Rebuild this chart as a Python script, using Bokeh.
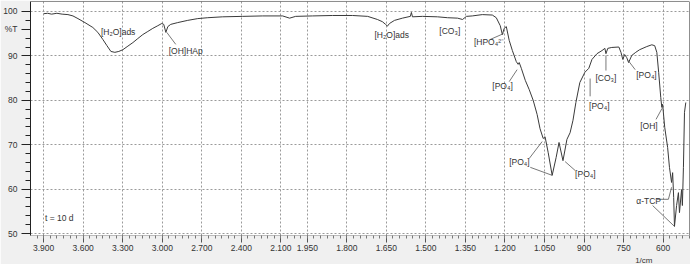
import numpy as np
from bokeh.plotting import figure
from bokeh.models import ColumnDataSource, FixedTicker, Span, Range1d, Title
from bokeh.core.properties import value
from bokeh.embed import file_html
from bokeh.resources import INLINE

# ---- spectrum (wavenumber in 1/cm, transmittance in %T) ----
wavenumber = [3900, 3870, 3840, 3800, 3760, 3716, 3678, 3640, 3587, 3527, 3489, 3451, 3420,
              3390, 3360, 3330, 3299, 3261, 3223, 3186, 3148, 3110, 3072, 3034, 3004, 2989,
              2973, 2958, 2936, 2883, 2807, 2731, 2655, 2542, 2390, 2239, 2087, 2034, 1994,
              1930, 1854, 1778, 1721, 1684, 1665, 1653, 1646, 1638, 1619, 1589, 1559, 1555,
              1551, 1513, 1456, 1418, 1380, 1361, 1346, 1324, 1286, 1248, 1233, 1218, 1210,
              1203, 1195, 1184, 1172, 1157, 1150, 1146, 1138, 1123, 1108, 1093, 1078, 1067,
              1055, 1048, 1036, 1021, 1006, 995, 980, 965, 953, 942, 931, 916, 897, 882, 870,
              851, 832, 821, 817, 810, 795, 768, 760, 753, 746, 738, 731, 719, 704, 689, 662,
              643, 632, 624, 617, 609, 605, 602, 594, 583, 576, 568, 564, 560, 557, 549, 542,
              538, 530, 527, 523, 519, 514]
transmittance = [99.5, 99.6, 99.4, 99.6, 99.4, 99.3, 99.0, 98.4, 97.5, 96.4, 95.3, 93.7, 92.3,
                 91.0, 90.8, 91.0, 91.4, 92.2, 93.0, 93.9, 94.8, 95.5, 96.2, 96.8, 97.3, 97.1,
                 95.3, 96.6, 97.1, 97.5, 98.0, 98.4, 98.6, 98.8, 98.9, 99.0, 99.0, 98.5, 98.9,
                 99.0, 99.1, 99.1, 98.9, 98.2, 97.7, 97.1, 96.7, 97.3, 98.0, 98.5, 98.9, 99.8,
                 98.8, 98.9, 98.8, 98.6, 98.5, 98.2, 98.9, 99.0, 99.3, 99.2, 98.6, 96.8, 94.8,
                 96.2, 96.6, 93.5, 91.2, 88.7, 88.1, 88.5, 87.2, 84.5, 82.4, 80.0, 76.8, 73.6,
                 71.4, 71.8, 68.2, 63.1, 67.1, 70.5, 66.4, 71.2, 72.7, 75.5, 79.5, 84.0, 86.3,
                 87.2, 89.2, 90.5, 91.2, 91.7, 90.5, 91.7, 91.9, 92.0, 90.8, 89.2, 90.3, 89.6,
                 88.5, 90.1, 90.8, 91.4, 92.1, 92.5, 92.3, 90.8, 86.3, 80.6, 78.4, 79.1, 73.9,
                 69.4, 64.9, 61.5, 63.7, 58.1, 51.6, 56.3, 59.2, 54.7, 59.9, 56.3, 64.9, 77.3,
                 79.5]

# ---- axes ----
x_tick_values = [3900, 3600, 3300, 3000, 2700, 2400, 2100, 1950, 1800, 1650, 1500, 1350,
                 1200, 1050, 900, 750, 600]
x_tick_labels = ["3.900", "3.600", "3.300", "3.000", "2.700", "2.400", "2.100", "1.950",
                 "1.800", "1.650", "1.500", "1.350", "1.200", "1.050", "900", "750", "600"]
y_tick_values = [50, 60, 70, 80, 90, 100]
y_unit_tick = 96
y_unit_label = "%T"
x_unit_label = "1/cm"

# ---- band assignments ----
band_labels = ["[H\u2082O]ads", "[OH]HAp", "[H\u2082O]ads", "[CO\u2083]", "[HPO\u2084\u00b2\u207b",
               "[PO\u2084]", "[CO\u2083]", "[PO\u2084]", "[PO\u2084]", "[OH]", "[PO\u2084]",
               "[PO\u2084]", "\u03b1-TCP", "t = 10 d"]
band_label_w = [3466, 2951, 1695, 1449, 1318, 1248, 817, 702, 881, 687, 1184, 934, 702, 3890]
band_label_t = [95.3, 91.2, 94.8, 95.7, 93.2, 83.3, 85.1, 85.8, 78.8, 74.3, 66.2, 63.5, 57.4, 53.4]
band_label_align = ["left", "left", "left", "left", "left", "left", "center", "left", "left",
                    "left", "left", "left", "left", "left"]
pointer_w = [[2966, 2898], [1256, 1206], [1184, 1154], [817, 817], [706, 733], [877, 877],
             [627, 604], [1108, 1059], [1104, 1021], [934, 972], [624, 580, 568], [640, 557]]
pointer_t = [[95.3, 92.6], [93.7, 95.0], [84.2, 86.9], [90.1, 86.7], [86.9, 89.0], [84.9, 80.9],
             [75.7, 78.2], [66.9, 70.7], [64.9, 63.1], [64.2, 66.2], [57.7, 57.7, 60.4],
             [56.3, 51.6]]

BREAK = 2000.0


def to_axis(w):
    """Piecewise-linear IR abscissa: 300 1/cm per division above 2000, 150 below."""
    w = np.asarray(w, dtype=float)
    return np.where(w >= BREAK, (4000.0 - w) / 300.0, (4000.0 - BREAK) / 300.0 + (BREAK - w) / 150.0)


x_end = float(to_axis(500))
y_start, y_end = 49.55, 102.25

FONT = "Liberation Sans"
TXT = "#333333"
FS = "8.5px"

p = figure(width=690, height=264, x_range=Range1d(0, x_end), y_range=Range1d(y_start, y_end),
           output_backend="svg", toolbar_location=None,
           min_border_left=28, min_border_right=1, min_border_top=1, min_border_bottom=0,
           background_fill_color="white", border_fill_color="#f0f0f0",
           outline_line_color=None)

# x axis
major_u = [float(v) for v in to_axis(x_tick_values)]
minor_u = [k / 6.0 for k in range(1, int(x_end * 6) + 1)]
p.xaxis.ticker = FixedTicker(ticks=major_u, minor_ticks=minor_u)
p.xgrid.ticker = FixedTicker(ticks=major_u)
p.xaxis.major_label_overrides = {u: lab for u, lab in zip(major_u, x_tick_labels)}
p.xaxis.axis_line_color = "#bbbbbb"
p.xaxis.major_tick_line_color = "#555555"
p.xaxis.minor_tick_line_color = "#777777"
p.xaxis.major_tick_in = 0
p.xaxis.major_tick_out = 7
p.xaxis.minor_tick_in = 0
p.xaxis.minor_tick_out = 3
p.xaxis.major_label_standoff = 2
p.xaxis.major_label_text_font = FONT
p.xaxis.major_label_text_font_size = FS
p.xaxis.major_label_text_color = TXT

# x unit below the tick labels, towards the right end
p.add_layout(Title(text=x_unit_label, align="right", offset=37, standoff=0,
                   text_font=FONT, text_font_size="8px", text_font_style="normal",
                   text_color=TXT), "below")

# y axis (unit "%T" shown as a labelled tick near the top, as in the original)
p.yaxis.ticker = FixedTicker(ticks=y_tick_values + [y_unit_tick],
                             minor_ticks=[v for v in range(50, 101, 2)])
p.ygrid.ticker = FixedTicker(ticks=y_tick_values)
p.yaxis.major_label_overrides = {y_unit_tick: y_unit_label}
p.yaxis.axis_line_color = "#222222"
p.yaxis.major_tick_line_color = "#222222"
p.yaxis.minor_tick_line_color = "#222222"
p.yaxis.major_tick_in = 0
p.yaxis.major_tick_out = 9
p.yaxis.minor_tick_in = 0
p.yaxis.minor_tick_out = 5
p.yaxis.major_label_standoff = 4
p.yaxis.major_label_text_font = FONT
p.yaxis.major_label_text_font_size = FS
p.yaxis.major_label_text_color = TXT

# grids
for g in (p.xgrid, p.ygrid):
    g.grid_line_color = "#9a9a9a"
    g.grid_line_dash = "2 2"
    g.grid_line_width = 1

# frame lines (top and right)
p.add_layout(Span(location=y_end, dimension="width", line_color="#222222", line_width=1))
p.add_layout(Span(location=x_end, dimension="height", line_color="#222222", line_width=1))

# spectrum
p.line(x=to_axis(wavenumber), y=transmittance, line_color="#3a3a3a", line_width=1)

# pointers
p.multi_line(xs=[list(to_axis(ws)) for ws in pointer_w], ys=pointer_t,
             line_color="#555555", line_width=0.8)

# band labels
lab_src = ColumnDataSource(dict(x=to_axis(band_label_w), y=band_label_t, text=band_labels,
                                align=band_label_align))
p.text(x="x", y="y", text="text", source=lab_src, text_align="align", text_baseline="middle",
       text_font=value(FONT), text_font_size=value(FS), text_color=TXT)

open("out.html", "w").write(file_html(p, INLINE))
